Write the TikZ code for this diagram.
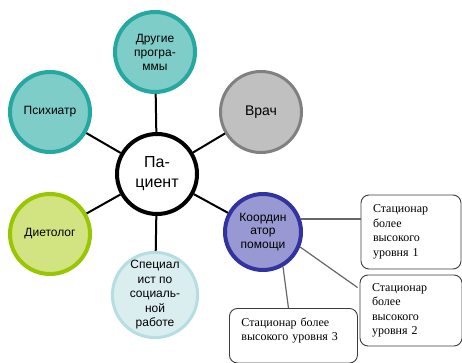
\documentclass[tikz,border=0pt]{standalone}
\usepackage{fontspec}
\usepackage{tikz}
\usetikzlibrary{calc}
\setmainfont{Liberation Sans}
\newfontfamily\boxfont{Liberation Serif}
\definecolor{tealfill}{RGB}{126,205,200}
\definecolor{tealline}{RGB}{36,168,160}
\definecolor{grayfill}{RGB}{192,192,192}
\definecolor{grayline}{RGB}{128,128,128}
\definecolor{greenfill}{RGB}{210,228,130}
\definecolor{greenline}{RGB}{152,198,0}
\definecolor{bluefill}{RGB}{218,238,240}
\definecolor{blueline}{RGB}{182,221,226}
\definecolor{violetfill}{RGB}{152,152,210}
\definecolor{violetline}{RGB}{50,50,160}
\definecolor{boxline}{RGB}{60,60,60}

\begin{document}
\begin{tikzpicture}[x=1pt,y=-1pt,
    ring/.style={circle,line width=4pt,minimum size=80pt,inner sep=0pt,align=center,
        font=\fontsize{12}{14}\selectfont},
    statbox/.style={rectangle,rounded corners=8pt,draw=boxline,line width=0.9pt,fill=white,
        align=left,inner xsep=12pt,font=\boxfont\fontsize{12}{14.5}\selectfont}]
    \useasboundingbox (0,0) rectangle (462,363);

    % circles round the patient
    \node[ring,draw=black,fill=white,minimum size=80pt,font=\fontsize{16}{20}\selectfont]
        (pac) at (157,174) {Па-\\циент};
    \node[ring,draw=tealline,fill=tealfill] (drug) at (155,52) {Другие\\програ-\\ммы};
    \node[ring,draw=tealline,fill=tealfill] (psy) at (50,112) {Психиатр};
    \node[ring,draw=grayline,fill=grayfill,line width=3pt,minimum size=81pt,
        font=\fontsize{14}{16}\selectfont] (vrach) at (261,112) {Врач};
    \node[ring,draw=greenline,fill=greenfill] (diet) at (50,234) {Диетолог};
    \node[ring,draw=blueline,fill=bluefill,line width=3pt,minimum size=83pt,
        font=\fontsize{12}{14.5}\selectfont] (spec) at (155,295)
        {Специал\\ист по\\социаль-\\ной\\работе};
    \node[ring,draw=violetline,fill=violetfill,minimum size=76pt,
        font=\fontsize{12}{13.5}\selectfont] (koord) at (263,232) {Координ\\атор\\помощи};

    % spokes
    \foreach \n in {drug,psy,vrach,diet,spec,koord} {
        \draw[black,line width=2pt] (pac) -- (\n);
    }

    % hospital boxes
    \node[statbox,text width=76pt,minimum height=74pt] (st1) at (411,232)
        {Стационар\\более\\высокого\\уровня 1};
    \node[statbox,text width=78pt,minimum height=71pt] (st2) at (411,310.5)
        {Стационар\\более\\высокого\\уровня 2};
    \node[statbox,text width=104pt,anchor=north west,inner ysep=9pt,text depth=28pt]
        (st3) at (229,308) {Стационар более\\высокого уровня 3};

    \draw[grayline!80!black,line width=1.2pt] (koord.19) -- (koord.19 -| st1.west);
    \draw[grayline!80!black,line width=1.2pt] (koord.-22) -- ($(st2.north west)+(-2,13)$);
    \draw[grayline!80!black,line width=1.2pt] (koord.-60) -- ($(st3.north)+(-5,0)$);
\end{tikzpicture}
\end{document}
